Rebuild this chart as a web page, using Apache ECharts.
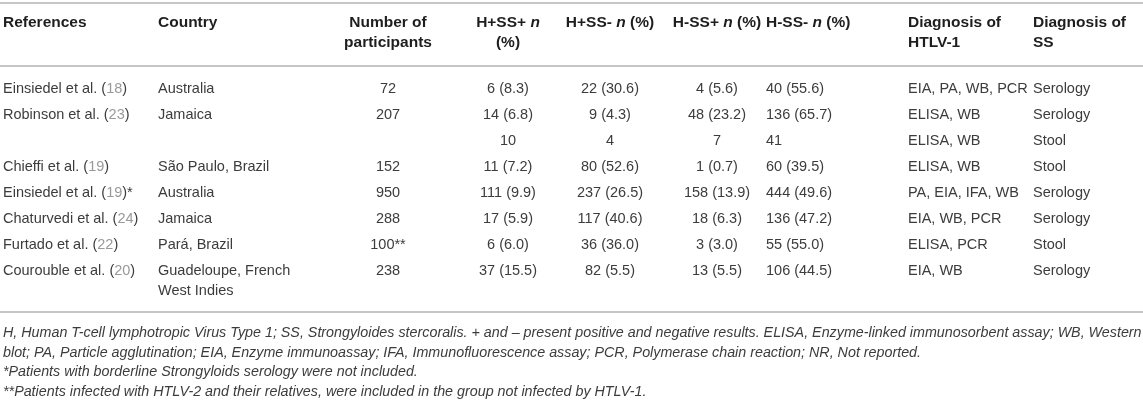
<!DOCTYPE html>
<html>
<head>
<meta charset="utf-8">
<title>HTLV-1 and Strongyloides table</title>
<script src="https://cdn.jsdelivr.net/npm/echarts@6/dist/echarts.min.js"></script>
<style>
  html, body { margin: 0; padding: 0; background: #fff; }
  #main { width: 1143px; height: 403px; }
</style>
</head>
<body>
<div id="main"></div>
<script>
// table data, one array per column
var references = ['Einsiedel et al.', 'Robinson et al.', '', 'Chieffi et al.', 'Einsiedel et al.', 'Chaturvedi et al.', 'Furtado et al.', 'Courouble et al.'];
var refNumbers = [18, 23, null, 19, 19, 24, 22, 20];
var refMarks = ['', '', '', '', '*', '', '', ''];
var countries = ['Australia', 'Jamaica', '', 'São Paulo, Brazil', 'Australia', 'Jamaica', 'Pará, Brazil', 'Guadeloupe, French\nWest Indies'];
var participants = [72, 207, null, 152, 950, 288, 100, 238];
var participantMarks = ['', '', '', '', '', '', '**', ''];
var hPosSsPosN = [6, 14, 10, 11, 111, 17, 6, 37];
var hPosSsPosPct = [8.3, 6.8, null, 7.2, 9.9, 5.9, 6.0, 15.5];
var hPosSsNegN = [22, 9, 4, 80, 237, 117, 36, 82];
var hPosSsNegPct = [30.6, 4.3, null, 52.6, 26.5, 40.6, 36.0, 5.5];
var hNegSsPosN = [4, 48, 7, 1, 158, 18, 3, 13];
var hNegSsPosPct = [5.6, 23.2, null, 0.7, 13.9, 6.3, 3.0, 5.5];
var hNegSsNegN = [40, 136, 41, 60, 444, 136, 55, 106];
var hNegSsNegPct = [55.6, 65.7, null, 39.5, 49.6, 47.2, 55.0, 44.5];
var htlvDiagnosis = ['EIA, PA, WB, PCR', 'ELISA, WB', 'ELISA, WB', 'ELISA, WB', 'PA, EIA, IFA, WB', 'EIA, WB, PCR', 'ELISA, PCR', 'EIA, WB'];
var ssDiagnosis = ['Serology', 'Serology', 'Stool', 'Stool', 'Serology', 'Serology', 'Stool', 'Serology'];

var headers = ['References', 'Country', 'Number of\nparticipants', 'H+SS+ {i|n}\n(%)', 'H+SS- {i|n} (%)',
  'H-SS+ {i|n} (%)', 'H-SS- {i|n} (%)', 'Diagnosis of\nHTLV-1', 'Diagnosis of\nSS'];
var footnotes = [
  'H, Human T-cell lymphotropic Virus Type 1; SS, Strongyloides stercoralis. + and \u2013 present positive and negative results. ELISA, Enzyme-linked immunosorbent assay; WB, Western',
  'blot; PA, Particle agglutination; EIA, Enzyme immunoassay; IFA, Immunofluorescence assay; PCR, Polymerase chain reaction; NR, Not reported.',
  '*Patients with borderline Strongyloids serology were not included.',
  '**Patients infected with HTLV-2 and their relatives, were included in the group not infected by HTLV-1.'
];

// layout
var W = 1143, H = 403;
var colX = [3, 158, 388, 508, 610, 717, 766, 908, 1033];
var colAlign = ['left', 'left', 'center', 'center', 'center', 'center', 'left', 'left', 'left'];
var FONT = '"Liberation Sans", Arial, Helvetica, sans-serif';
var BODY = 14.5, HEAD = 15.5, NOTE = 14.3;
var rowNames = references.map(function (r, i) { return 'row' + i; });

function nPct(n, p) {
  if (n == null) return '';
  return p == null ? String(n) : n + ' (' + p.toFixed(1) + ')';
}

var cells = [];
references.forEach(function (ref, i) {
  var refText = ref ? ref + ' ({n|' + refNumbers[i] + '})' + refMarks[i] : '';
  var row = [
    refText,
    countries[i],
    participants[i] == null ? '' : participants[i] + participantMarks[i],
    nPct(hPosSsPosN[i], hPosSsPosPct[i]),
    nPct(hPosSsNegN[i], hPosSsNegPct[i]),
    nPct(hNegSsPosN[i], hNegSsPosPct[i]),
    nPct(hNegSsNegN[i], hNegSsNegPct[i]),
    htlvDiagnosis[i],
    ssDiagnosis[i]
  ];
  row.forEach(function (t, c) {
    if (t !== '') cells.push({ value: [c, i], text: t });
  });
});

var graphics = [];
[3, 66, 312].forEach(function (y) {
  graphics.push({
    type: 'line', silent: true,
    shape: { x1: 0, y1: y, x2: W, y2: y },
    style: { stroke: '#b3b3b3', lineWidth: 1.6 }
  });
});
headers.forEach(function (h, c) {
  graphics.push({
    type: 'text', x: colX[c], y: 13,
    style: {
      text: h, align: colAlign[c], verticalAlign: 'top',
      fontFamily: FONT, fontSize: HEAD, fontWeight: 'bold', lineHeight: 20, fill: '#1e1e1e',
      rich: { i: { fontFamily: FONT, fontSize: HEAD, fontWeight: 'bold', fontStyle: 'italic', fill: '#1e1e1e', lineHeight: 20 } }
    }
  });
});
graphics.push({
  type: 'text', x: 3, y: 323,
  style: {
    text: footnotes.join('\n'), align: 'left', verticalAlign: 'top',
    fontFamily: FONT, fontSize: NOTE, fontStyle: 'italic', lineHeight: 19.7, fill: '#3c3c3c'
  }
});

var myChart = echarts.init(document.getElementById('main'));
var option = {
  animation: false,
  backgroundColor: '#fff',
  grid: { left: 0, right: 0, top: 76, bottom: 119 },
  xAxis: { type: 'value', min: 0, max: W, show: false },
  yAxis: { type: 'category', data: rowNames, inverse: true, show: false },
  graphic: graphics,
  series: [{
    type: 'custom',
    coordinateSystem: 'cartesian2d',
    encode: { x: 0, y: 1 },
    data: cells,
    renderItem: function (params, api) {
      var c = api.value(0);
      var pt = api.coord([colX[c], api.value(1)]);
      return {
        type: 'text',
        x: pt[0], y: pt[1] - 10,
        style: {
          text: cells[params.dataIndex].text,
          align: colAlign[c], verticalAlign: 'top',
          fontFamily: FONT, fontSize: BODY, lineHeight: 20, fill: '#3c3c3c',
          rich: { n: { fontFamily: FONT, fontSize: BODY, lineHeight: 20, fill: '#999999' } }
        }
      };
    }
  }]
};
option && myChart.setOption(option);
</script>
</body>
</html>
